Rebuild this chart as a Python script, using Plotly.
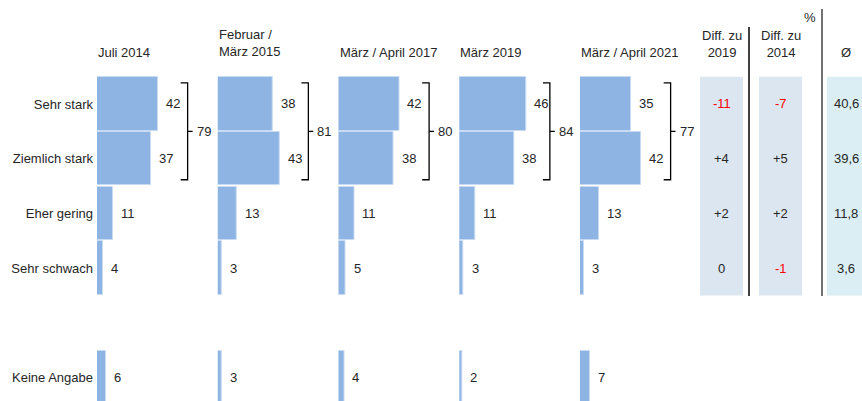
import plotly.graph_objects as go

# Daten
kategorien = ["Sehr stark", "Ziemlich stark", "Eher gering", "Sehr schwach", "Keine Angabe"]
zeilen = [0, 1, 2, 3, 5]

wellen = ["Juli 2014", "Februar /<br>März 2015", "März / April 2017", "März 2019", "März / April 2021"]
werte = [
    [42, 37, 11, 4, 6],
    [38, 43, 13, 3, 3],
    [42, 38, 11, 5, 4],
    [46, 38, 11, 3, 2],
    [35, 42, 13, 3, 7],
]
summen = [79, 81, 80, 84, 77]

diff_2019 = ["-11", "+4", "+2", "0"]
diff_2014 = ["-7", "+5", "+2", "-1"]
mittel = ["40,6", "39,6", "11,8", "3,6"]

W, H = 862, 401
BLAU = "#8DB4E2"
TXT = "#262626"
FONT = "Liberation Sans, Arial, sans-serif"


def px(x):
    return x / W


def py(y):
    return 1 - y / H


fig = go.Figure()

starts = [97 + 120.75 * k for k in range(5)]
unit = 1.45  # pixel pro Prozentpunkt
panel_w = 118

for k, (welle, vals) in enumerate(zip(wellen, werte)):
    xa = "x" if k == 0 else f"x{k + 1}"
    fig.add_trace(go.Bar(
        x=vals, y=zeilen, orientation="h", width=0.98,
        marker=dict(color=BLAU, line=dict(color="#C9DBF2", width=1)),
        xaxis=xa, yaxis="y", showlegend=False, hoverinfo="x+y",
    ))
    d = [px(starts[k]), px(starts[k] + panel_w)]
    fig.layout[("xaxis" if k == 0 else f"xaxis{k + 1}")] = dict(
        domain=d, range=[0, panel_w / unit], visible=False, anchor="y", fixedrange=True)

    for v, r in zip(vals, zeilen):
        fig.add_annotation(x=v, y=r, xref=xa, yref="y", text=str(v), showarrow=False,
                           xanchor="left", yanchor="middle", xshift=6)

    # Klammer Sehr stark + Ziemlich stark
    bx = 62.5
    fig.add_shape(type="path", xref=xa, yref="y",
                  path=f"M {bx - 4.8},-0.385 L {bx},-0.385 L {bx},1.385 L {bx - 4.8},1.385 "
                       f"M {bx},0.5 L {bx + 3.4},0.5",
                  line=dict(color="black", width=1.3))
    fig.add_annotation(x=bx, y=0.5, xref=xa, yref="y", text=str(summen[k]), showarrow=False,
                       xanchor="left", yanchor="middle", xshift=7)

    # Kopfzeile
    yc = 43.5 if "<br>" in welle else 52
    fig.add_annotation(x=px(starts[k]), y=py(yc), xref="paper", yref="paper", text=welle,
                       showarrow=False, xanchor="left", yanchor="middle", align="left", xshift=-1)

# Tabelle rechts
spalten = [
    (700, 743, "#DCE6F1", 721.5, diff_2019, "Diff. zu<br>2019", 44),
    (759, 802, "#DCE6F1", 780.5, diff_2014, "Diff. zu<br>2014", 44),
    (827, 862, "#DAEEF3", 846, mittel, "Ø", 52),
]
for x0, x1, farbe, xc, texte, kopf, ky in spalten:
    fig.add_shape(type="rect", xref="paper", yref="y", x0=px(x0), x1=px(x1), y0=-0.5, y1=3.5,
                  fillcolor=farbe, line=dict(width=0), layer="below")
    for t, r in zip(texte, zeilen):
        farbe_t = "#FF0000" if t.startswith("-") else TXT
        fig.add_annotation(x=px(xc), y=r, xref="paper", yref="y", text=t, showarrow=False,
                           font=dict(color=farbe_t), xanchor="center", yanchor="middle")
    fig.add_annotation(x=px(xc), y=py(ky), xref="paper", yref="paper", text=kopf,
                       showarrow=False, xanchor="center", yanchor="middle")

fig.add_annotation(x=px(810), y=py(18), xref="paper", yref="paper", text="%",
                   showarrow=False, xanchor="center", yanchor="middle")

fig.add_shape(type="line", xref="paper", yref="paper", x0=px(749), x1=px(749),
              y0=py(27), y1=py(296), line=dict(color="black", width=1.5))
fig.add_shape(type="line", xref="paper", yref="paper", x0=px(822), x1=px(822),
              y0=py(9), y1=py(296), line=dict(color="#444444", width=1.5))

fig.update_layout(
    width=W, height=H, autosize=False,
    margin=dict(l=0, r=0, t=0, b=0),
    paper_bgcolor="white", plot_bgcolor="white",
    font=dict(family=FONT, size=13, color=TXT),
    bargap=0,
    yaxis=dict(range=[5.43, -1.901], domain=[0, 1], anchor="x",
               tickvals=zeilen, ticktext=kategorien, showgrid=False, zeroline=False,
               showline=False, ticks="", automargin=False, fixedrange=True,
               ticklabelstandoff=3, tickfont=dict(size=13, color=TXT)),
)

# Seitenrand des Browsers entfernen, damit die Grafik bei 0,0 beginnt
fig.write_html("out.html", post_script="document.body.style.margin='0';",
               config={"displayModeBar": False})
